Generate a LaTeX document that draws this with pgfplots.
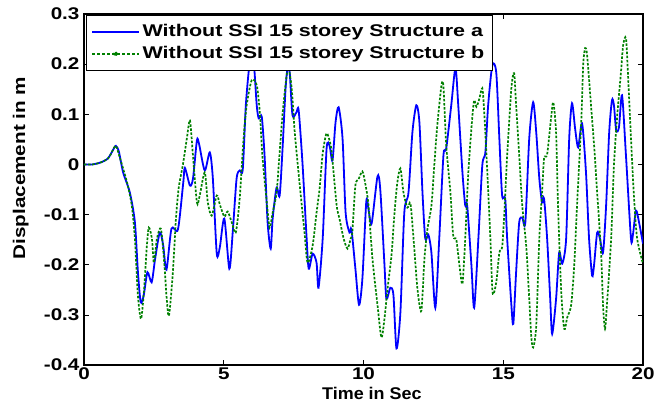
\documentclass[border=0pt]{standalone}
\usepackage{fontspec}
\setmainfont{Liberation Sans}
\newfontfamily\lfont{Liberation Sans}[FakeStretch=1.22]
\newfontfamily\gfont{Liberation Sans}[FakeStretch=1.27]
\newfontfamily\xfont{Liberation Sans}[FakeStretch=1.06]
\usepackage{pgfplots}
\pgfplotsset{compat=1.18}
\definecolor{mblue}{RGB}{0,0,255}
\definecolor{mgreen}{RGB}{0,128,0}
\pgfplotstableread{
t y
0 0
0.3 0
0.6 0.004
0.86 0.012
1.0 0.025
1.14 0.037
1.25 0.025
1.4 -0.016
1.64 -0.056
1.82 -0.115
1.93 -0.215
2.03 -0.275
2.14 -0.26
2.27 -0.215
2.42 -0.235
2.54 -0.19
2.71 -0.136
2.83 -0.16
2.95 -0.21
3.13 -0.128
3.36 -0.13
3.55 -0.037
3.61 -0.007
3.79 -0.042
3.9 -0.028
4.04 0.048
4.12 0.04
4.32 -0.012
4.5 0.024
4.61 -0.028
4.75 -0.178
4.86 -0.165
5.02 -0.108
5.2 -0.208
5.32 -0.136
5.46 -0.028
5.57 -0.012
5.68 -0.01
5.79 0.118
5.92 0.2
6.0 0.21
6.08 0.2
6.18 0.118
6.25 0.092
6.36 0.095
6.46 0.018
6.57 -0.116
6.68 -0.168
6.75 -0.108
6.89 -0.046
7.0 -0.062
7.11 0.038
7.21 0.15
7.29 0.195
7.36 0.183
7.46 0.098
7.6 0.104
7.68 0.108
7.82 0
7.96 -0.142
8.04 -0.208
8.18 -0.178
8.32 -0.196
8.39 -0.246
8.54 -0.148
8.68 0.032
8.79 0.036
8.89 0.008
9.0 0.084
9.11 0.114
9.25 0.052
9.36 -0.096
9.5 -0.136
9.57 -0.13
9.71 -0.208
9.84 -0.28
9.96 -0.228
10.1 -0.074
10.18 -0.09
10.29 -0.118
10.5 -0.024
10.6 -0.05
10.75 -0.2
10.82 -0.268
10.96 -0.246
11.07 -0.26
11.18 -0.367
11.32 -0.295
11.46 -0.096
11.61 -0.056
11.75 0.064
11.89 0.118
12.0 0.084
12.11 -0.056
12.21 -0.148
12.32 -0.14
12.43 -0.176
12.57 -0.286
12.71 -0.148
12.86 0.018
12.96 0.032
13.14 0.118
13.29 0.192
13.39 0.118
13.54 -0.016
13.64 -0.082
13.71 -0.082
13.86 -0.2
13.96 -0.286
14.11 -0.148
14.25 -0.002
14.36 0.024
14.46 0.118
14.61 0.198
14.75 0.183
14.86 0.052
14.96 -0.062
15.07 -0.068
15.14 -0.148
15.29 -0.28
15.36 -0.318
15.46 -0.215
15.57 -0.116
15.68 -0.106
15.79 -0.116
15.93 0.052
16.07 0.124
16.18 0.064
16.29 -0.028
16.39 -0.076
16.46 -0.068
16.57 -0.148
16.68 -0.268
16.75 -0.338
16.89 -0.268
17.0 -0.176
17.11 -0.198
17.25 -0.148
17.36 0.052
17.46 0.122
17.57 0.072
17.68 0.034
17.82 0.082
17.96 -0.016
18.07 -0.148
18.18 -0.222
18.25 -0.2
18.36 -0.136
18.46 -0.148
18.57 -0.176
18.68 -0.082
18.79 0.064
18.89 0.128
18.96 0.118
19.04 0.068
19.14 0.074
19.25 0.138
19.39 0.018
19.57 -0.148
19.64 -0.14
19.75 -0.092
19.86 -0.116
20.0 -0.158
}\seriesA
\pgfplotstableread{
t y
0 0
0.3 0
0.6 0.004
0.86 0.012
1.0 0.025
1.14 0.037
1.29 0.012
1.54 -0.036
1.71 -0.082
1.82 -0.148
1.93 -0.262
2.04 -0.308
2.14 -0.256
2.25 -0.162
2.32 -0.126
2.43 -0.148
2.5 -0.196
2.61 -0.148
2.75 -0.128
2.86 -0.188
2.96 -0.268
3.04 -0.302
3.18 -0.215
3.29 -0.108
3.39 -0.046
3.54 0
3.68 0.052
3.79 0.088
3.89 0.024
4.04 -0.076
4.14 -0.062
4.32 -0.016
4.43 -0.076
4.57 -0.102
4.75 -0.062
4.86 -0.08
5.02 -0.104
5.14 -0.094
5.29 -0.116
5.43 -0.136
5.57 -0.068
5.71 0.052
5.82 0.118
6.0 0.168
6.18 0.158
6.29 0.104
6.39 0.012
6.54 -0.076
6.64 -0.126
6.75 -0.096
6.89 -0.056
7.0 0.024
7.11 0.104
7.25 0.178
7.32 0.192
7.43 0.152
7.54 0.064
7.71 -0.036
7.89 -0.136
8.0 -0.196
8.18 -0.162
8.32 -0.096
8.43 -0.048
8.54 0.022
8.68 0.062
8.82 0.04
8.89 0.008
9.04 -0.082
9.14 -0.108
9.29 -0.148
9.43 -0.168
9.54 -0.148
9.6 -0.135
9.71 -0.042
9.82 -0.03
9.96 -0.014
10.07 -0.04
10.18 -0.082
10.32 -0.188
10.5 -0.28
10.64 -0.345
10.75 -0.308
10.86 -0.248
11.0 -0.182
11.11 -0.096
11.21 -0.036
11.32 -0.008
11.43 -0.056
11.57 -0.086
11.68 -0.078
11.79 -0.148
11.93 -0.248
12.07 -0.292
12.18 -0.188
12.29 -0.128
12.43 -0.082
12.54 0.004
12.64 0.078
12.79 0.158
12.86 0.155
12.96 0.038
13.11 -0.056
13.21 -0.142
13.32 -0.15
13.43 -0.2
13.54 -0.238
13.64 -0.148
13.75 -0.016
13.89 0.092
13.96 0.128
14.04 0.115
14.14 0.13
14.25 0.152
14.32 0.104
14.43 -0.016
14.54 -0.148
14.62 -0.256
14.75 -0.235
14.86 -0.176
14.96 -0.165
15.04 -0.096
15.14 0.018
15.29 0.152
15.39 0.182
15.46 0.118
15.57 0.018
15.68 -0.082
15.82 -0.162
15.93 -0.268
16.0 -0.342
16.07 -0.365
16.18 -0.322
16.29 -0.148
16.39 -0.056
16.46 0.012
16.57 0.02
16.71 0.092
16.79 0.124
16.89 0.064
16.96 -0.082
17.07 -0.248
17.18 -0.328
17.29 -0.305
17.43 -0.28
17.54 -0.2
17.64 -0.082
17.79 0.084
17.86 0.198
17.93 0.232
18.0 0.218
18.14 0.118
18.25 0.038
18.36 -0.056
18.5 -0.176
18.57 -0.28
18.64 -0.328
18.71 -0.28
18.86 -0.148
18.96 -0.002
19.07 0.092
19.21 0.183
19.29 0.238
19.39 0.252
19.46 0.183
19.57 0.052
19.68 -0.068
19.79 -0.148
20.0 -0.198
}\seriesB
\begin{document}
\begin{tikzpicture}
\useasboundingbox (-84bp,-42bp) rectangle (583bp,365bp);
\begin{axis}[
  at={(0,0)}, anchor=south west,
  scale only axis, width=559bp, height=351bp,
  xmin=0, xmax=20, ymin=-0.4, ymax=0.3,
  xtick={0,5,10,15,20},
  xticklabels={0,5,10,15,20},
  ytick={-0.4,-0.3,-0.2,-0.1,0,0.1,0.2,0.3},
  yticklabels={-0.4,-0.3,-0.2,-0.1,0,0.1,0.2,0.3},
  tick align=inside,
  major tick length=5bp,
  tick style={black, line width=0.6bp},
  axis line style={line width=1.2bp},
  ticklabel style={font=\lfont\bfseries\fontsize{17}{20}\selectfont},
  yticklabel style={xshift=-1bp},
  xticklabel style={yshift=1bp},
  xlabel={Time in Sec},
  ylabel={Displacement in m},
  every axis x label/.style={at={(axis description cs:0.515,-0.08)}, anchor=center, font=\xfont\bfseries\fontsize{17}{20}\selectfont},
  every axis y label/.style={at={(axis description cs:-0.113,0.561)}, anchor=center, rotate=90, font=\lfont\bfseries\fontsize{17}{20}\selectfont},
  legend style={at={(axis description cs:0.0036,0.997)}, anchor=north west,
    draw=black, line width=0.8bp, inner xsep=5bp, inner ysep=6bp,
    font=\gfont\bfseries\fontsize{17}{20}\selectfont,
    nodes={inner xsep=3bp, inner ysep=2bp, text height=13bp, text depth=4bp},
    row sep=1bp},
  legend cell align=left,
]
\addplot[mblue, line width=1.8bp, smooth, tension=0.45,
  legend image code/.code={\draw[mblue, line width=1.2bp] (0bp,0bp) -- (47bp,0bp);}]
  table[x=t, y=y] {\seriesA};
\addlegendentry{Without SSI 15 storey Structure a}
\addplot[mgreen, line width=1.7bp, dash pattern=on 2.5bp off 1.6bp, smooth, tension=0.45,
  legend image code/.code={\draw[mgreen, line width=1.2bp, dash pattern=on 3bp off 2bp] (0bp,0bp) -- (47bp,0bp); \fill[mgreen] (23.5bp,0bp) circle (1.8bp);}]
  table[x=t, y=y] {\seriesB};
\addlegendentry{Without SSI 15 storey Structure b}
\end{axis}
\end{tikzpicture}
\end{document}
